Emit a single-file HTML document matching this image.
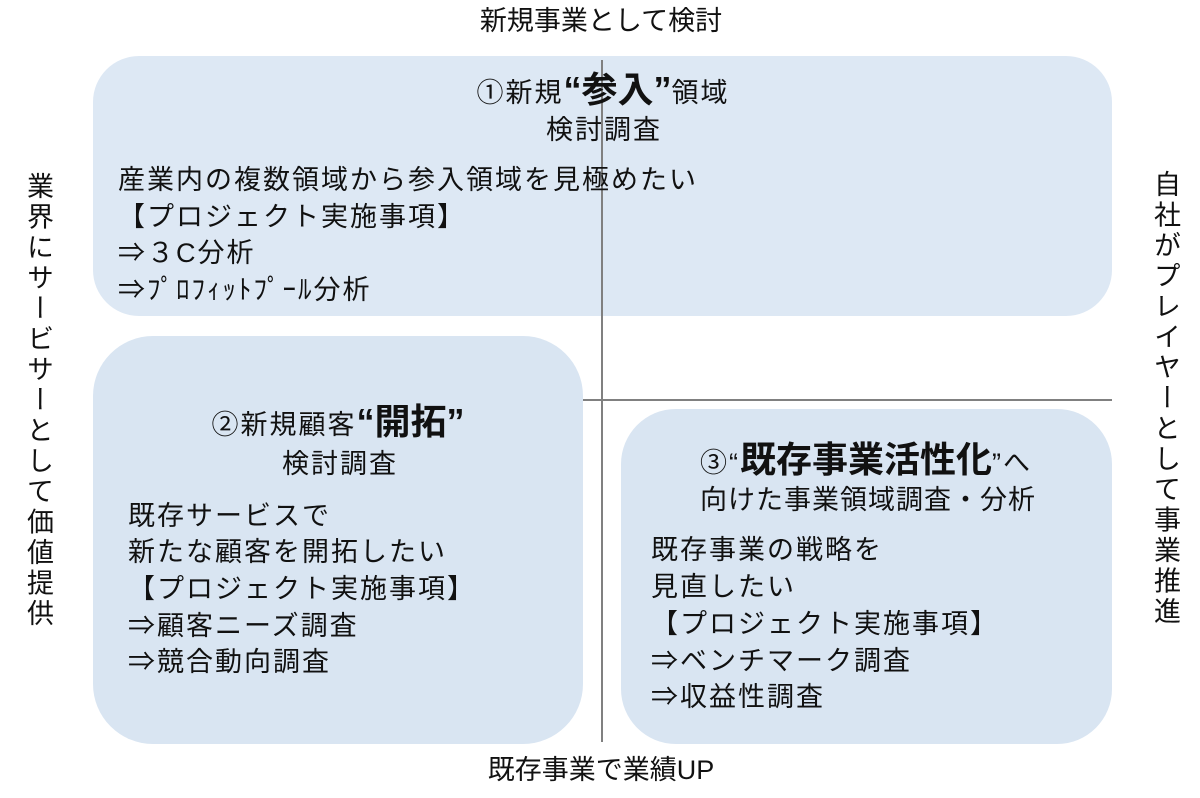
<!DOCTYPE html>
<html><head><meta charset="utf-8"><style>
body{margin:0;width:1200px;height:798px;background:#fff;position:relative;overflow:hidden;font-family:"Liberation Sans","Noto Sans CJK JP",sans-serif;color:#111}
.box{position:absolute;background:#dde8f4}
.t{position:absolute;white-space:nowrap;font-size:27px;line-height:27px;letter-spacing:2px}
.c{transform:translateX(-50%)}
.v{position:absolute;writing-mode:vertical-rl;font-size:27px;letter-spacing:3.5px;line-height:27px}
b{font-weight:bold;font-size:36px;letter-spacing:0}
</style></head><body>
<div class="box" style="left:93px;top:56px;width:1019px;height:260px;border-radius:46px"></div>
<div class="box" style="left:93px;top:336px;width:490px;height:408px;border-radius:60px;background:#d9e5f2"></div>
<div class="box" style="left:621px;top:409px;width:491px;height:335px;border-radius:55px;background:#d9e5f2"></div>
<div style="position:absolute;left:601px;top:60px;width:2px;height:682px;background:#808080"></div>
<div style="position:absolute;left:583px;top:399px;width:529px;height:2px;background:#808080"></div>

<div class="t c" style="left:601px;top:8px;letter-spacing:0">新規事業として検討</div>
<div class="t c" style="left:601px;top:757px;letter-spacing:0">既存事業で業績UP</div>
<div class="v" style="left:24px;top:172px">業界にサービサーとして価値提供</div>
<div class="v" style="left:1151px;top:170px">自社がプレイヤーとして事業推進</div>

<div class="t c" style="left:603px;top:76px">①新規<b>“参入”</b>領域</div>
<div class="t c" style="left:604px;top:117px">検討調査</div>
<div class="t" style="left:118px;top:167px">産業内の複数領域から参入領域を見極めたい</div>
<div class="t" style="left:118px;top:204px">【プロジェクト実施事項】</div>
<div class="t" style="left:118px;top:240px">⇒３C分析</div>
<div class="t" style="left:118px;top:277px">⇒ﾌﾟﾛﾌｨｯﾄﾌﾟｰﾙ分析</div>

<div class="t c" style="left:338px;top:408px">②新規顧客<b>“開拓”</b></div>
<div class="t c" style="left:340px;top:451px">検討調査</div>
<div class="t" style="left:128px;top:503px">既存サービスで</div>
<div class="t" style="left:128px;top:539px">新たな顧客を開拓したい</div>
<div class="t" style="left:128px;top:576px">【プロジェクト実施事項】</div>
<div class="t" style="left:128px;top:613px">⇒顧客ニーズ調査</div>
<div class="t" style="left:128px;top:649px">⇒競合動向調査</div>

<div class="t c" style="left:866px;top:446px">③“<b>既存事業活性化</b>”へ</div>
<div class="t c" style="left:868px;top:487px;letter-spacing:1px">向けた事業領域調査・分析</div>
<div class="t" style="left:651px;top:537px">既存事業の戦略を</div>
<div class="t" style="left:651px;top:574px">見直したい</div>
<div class="t" style="left:651px;top:611px">【プロジェクト実施事項】</div>
<div class="t" style="left:651px;top:648px">⇒ベンチマーク調査</div>
<div class="t" style="left:651px;top:684px">⇒収益性調査</div>
</body></html>
